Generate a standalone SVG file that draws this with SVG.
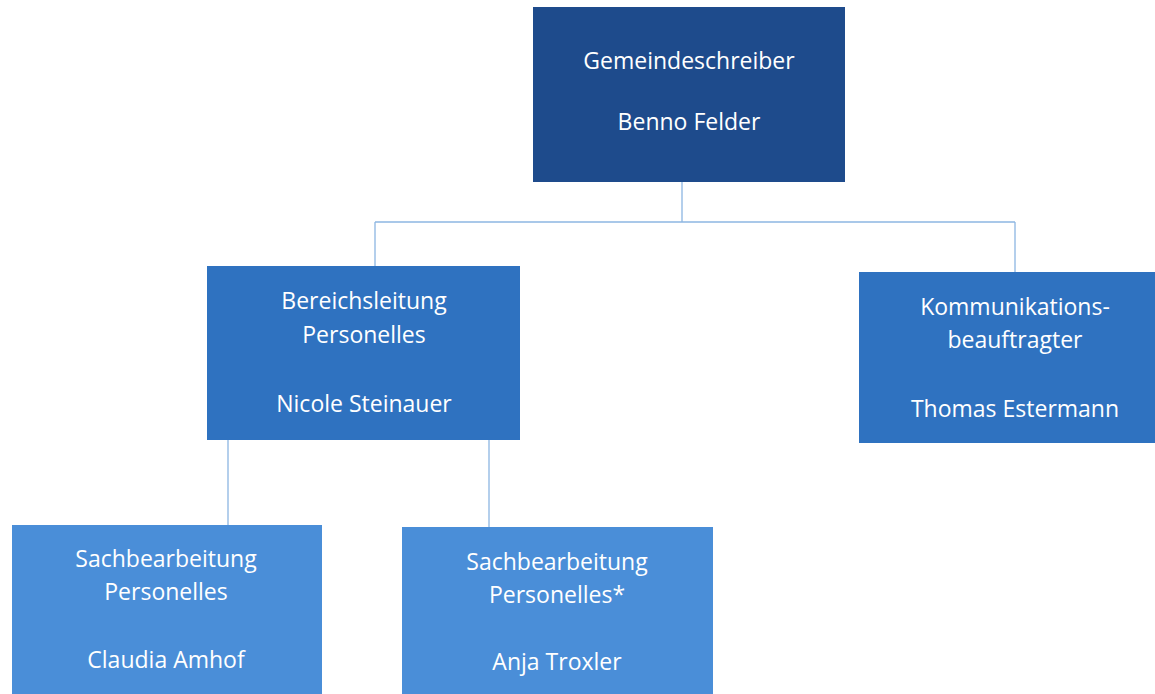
<svg xmlns="http://www.w3.org/2000/svg" width="1155" height="694" viewBox="0 0 1155 694">
<style>
.bg{fill:#ffffff}
.n0{fill:#1e4b8c}
.n1{fill:#2f72c0}
.n2{fill:#4a8ed8}
.t{font-family:"Open Sans","Noto Sans",sans-serif;font-size:23px;font-weight:500;fill:#ffffff;text-anchor:middle}
.c{stroke:#8db6e2;stroke-width:1.3;fill:none}
</style>
<rect class="bg" x="0" y="0" width="1155" height="694"/>
<g id="connectors">
<path class="c" d="M682 182 V222 M375 222 H1015 M375 222 V266 M1015 222 V272 M228 440 V525 M489 440 V527"/>
</g>
<g id="gemeindeschreiber">
<rect class="n0" x="533" y="7" width="312" height="175"/>
<text class="t" x="689" y="69">Gemeindeschreiber</text>
<text class="t" x="689" y="130">Benno Felder</text>
</g>
<g id="bereichsleitung">
<rect class="n1" x="207" y="266" width="313" height="174"/>
<text class="t" x="364" y="309">Bereichsleitung</text>
<text class="t" x="364" y="343">Personelles</text>
<text class="t" x="364" y="412">Nicole Steinauer</text>
</g>
<g id="kommunikation">
<rect class="n1" x="859" y="272" width="296" height="171"/>
<text class="t" x="1015" y="315">Kommunikations-</text>
<text class="t" x="1015" y="348">beauftragter</text>
<text class="t" x="1015" y="417">Thomas Estermann</text>
</g>
<g id="sachbearbeitung1">
<rect class="n2" x="12" y="525" width="310" height="169"/>
<text class="t" x="166" y="567">Sachbearbeitung</text>
<text class="t" x="166" y="600">Personelles</text>
<text class="t" x="166" y="668">Claudia Amhof</text>
</g>
<g id="sachbearbeitung2">
<rect class="n2" x="402" y="527" width="311" height="167"/>
<text class="t" x="557" y="570">Sachbearbeitung</text>
<text class="t" x="557" y="603">Personelles*</text>
<text class="t" x="557" y="670">Anja Troxler</text>
</g>
</svg>
